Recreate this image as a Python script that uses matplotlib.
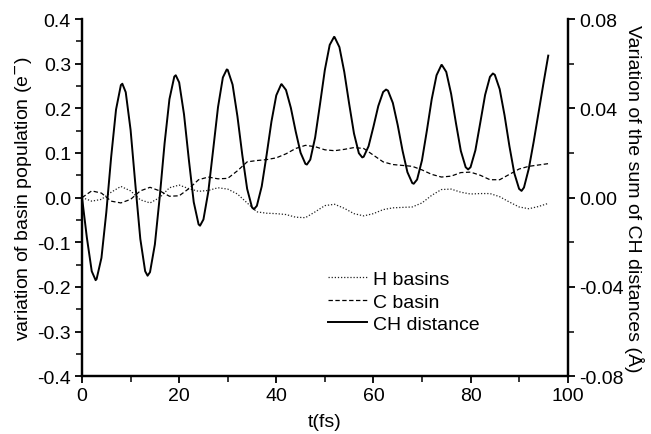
import numpy as np
import matplotlib.pyplot as plt
from matplotlib.ticker import MultipleLocator

plt.rcParams['font.family'] = ['Liberation Sans', 'DejaVu Sans']

# CH distance (right axis, Angstrom): every 1 fs plus the turning points
t_ch = [
    0, 1, 2, 2.8, 3, 4, 5, 6, 7, 8, 8.3, 9, 10, 11, 12, 13, 13.5, 14, 15, 16,
    17, 18, 19, 19.3, 20, 21, 22, 23, 24, 24.3, 25, 26, 27, 28, 29, 29.8, 30, 31,
    32, 33, 34, 35, 35.4, 36, 37, 38, 39, 40, 41, 41.1, 42, 43, 44, 45, 46, 46.3,
    47, 48, 49, 50, 51, 51.9, 52, 53, 54, 55, 56, 57, 57.7, 58, 59, 60, 61, 62,
    62.6, 63, 64, 65, 66, 67, 68, 68.3, 69, 70, 71, 72, 73, 74, 74.1, 75, 76, 77,
    78, 79, 79.5, 80, 81, 82, 83, 84, 84.6, 85, 86, 87, 88, 89, 90, 90.5, 91, 92,
    93, 94, 95, 96,
]
ch_distance = [
    0.0, -0.018, -0.033, -0.037, -0.0365, -0.027, -0.0066, 0.0182, 0.0394, 0.0504,
    0.051, 0.0472, 0.0303, 0.0054, -0.0185, -0.033, -0.035, -0.0334, -0.021, 0.0003,
    0.0243, 0.0441, 0.0542, 0.0548, 0.0516, 0.0373, 0.0169, -0.002, -0.012, -0.0126,
    -0.0098, 0.0026, 0.0214, 0.0405, 0.0538, 0.0574, 0.0572, 0.0506, 0.0364, 0.0191,
    0.0039, -0.0044, -0.0052, -0.0037, 0.005, 0.019, 0.034, 0.0458, 0.0507, 0.0508,
    0.0482, 0.0402, 0.0296, 0.0201, 0.0151, 0.0148, 0.017, 0.0269, 0.0418, 0.0572,
    0.0684, 0.072, 0.0719, 0.0674, 0.0563, 0.0421, 0.0287, 0.0199, 0.018, 0.0183,
    0.023, 0.0317, 0.041, 0.0473, 0.0484, 0.0479, 0.0424, 0.0325, 0.021, 0.0114,
    0.0065, 0.0062, 0.0081, 0.0167, 0.0299, 0.044, 0.0548, 0.0594, 0.0594, 0.0563,
    0.0465, 0.0333, 0.0209, 0.0136, 0.0126, 0.0136, 0.0212, 0.0335, 0.046, 0.0541,
    0.0556, 0.055, 0.0486, 0.0369, 0.0231, 0.011, 0.0039, 0.003, 0.0045, 0.013,
    0.025, 0.038, 0.051, 0.0636,
]

# basin populations (left axis, e-), every 2 fs
t_basin = list(range(0, 97, 2))
h_basins = [
    0.0, -0.008, -0.004, 0.012, 0.025, 0.015, -0.005, -0.012, 0.0, 0.022,
    0.028, 0.020, 0.014, 0.016, 0.022, 0.019, 0.008, -0.012, -0.032, -0.035,
    -0.036, -0.038, -0.044, -0.045, -0.032, -0.018, -0.015, -0.024, -0.036, -0.041,
    -0.036, -0.027, -0.023, -0.022, -0.021, -0.012, 0.005, 0.018, 0.019, 0.012,
    0.008, 0.009, 0.009, 0.002, -0.010, -0.021, -0.025, -0.020, -0.013,
]
c_basin = [
    0.0, 0.015, 0.010, -0.008, -0.012, -0.004, 0.015, 0.023, 0.015, 0.003,
    0.004, 0.020, 0.040, 0.046, 0.042, 0.043, 0.060, 0.080, 0.083, 0.085,
    0.089, 0.098, 0.110, 0.117, 0.114, 0.107, 0.105, 0.108, 0.112, 0.110,
    0.095, 0.080, 0.074, 0.072, 0.070, 0.062, 0.052, 0.046, 0.048, 0.056,
    0.057, 0.050, 0.040, 0.040, 0.052, 0.064, 0.070, 0.073, 0.076,
]

fig = plt.figure(figsize=(6.51, 4.35), dpi=100)
ax = fig.add_axes([0.126, 0.133, 0.746, 0.821])
ax2 = ax.twinx()

l1, = ax.plot(t_basin, h_basins, color='#222222', lw=0.9, ls=(0, (1, 1.5)), label='H basins')
l2, = ax.plot(t_basin, c_basin, color='black', lw=0.9, ls=(0, (3.5, 2)), label='C basin')
l3, = ax2.plot(t_ch, ch_distance, color='black', lw=1.4, label='CH distance')

ax.set_xlim(0, 100)
ax.set_ylim(-0.4, 0.4)
ax2.set_ylim(-0.08, 0.08)

ax.xaxis.set_major_locator(MultipleLocator(20))
ax.xaxis.set_minor_locator(MultipleLocator(10))
ax.yaxis.set_major_locator(MultipleLocator(0.1))
ax.yaxis.set_minor_locator(MultipleLocator(0.05))
ax2.yaxis.set_major_locator(MultipleLocator(0.04))
ax2.yaxis.set_minor_locator(MultipleLocator(0.02))
ax.yaxis.set_major_formatter(plt.FormatStrFormatter('%.1f'))
ax2.yaxis.set_major_formatter(plt.FormatStrFormatter('%.2f'))

for a in (ax, ax2):
    a.spines['top'].set_visible(False)
    for s in a.spines.values():
        s.set_linewidth(1.6)
    a.tick_params(which='major', direction='out', length=5, width=1.3, labelsize=14,
                  pad=3)
    a.tick_params(which='minor', direction='out', length=4, width=1.1)

ax.set_xlabel('t(fs)', fontsize=14, labelpad=6)
ax.set_ylabel('variation of basin population (e$^{-}$)', fontsize=14, labelpad=2)
ax2.set_ylabel('Variation of the sum of CH distances (Å)', fontsize=14,
               rotation=270, labelpad=15)

ax.legend(handles=[l1, l2, l3], loc='upper left', bbox_to_anchor=(0.47, 0.345),
          frameon=False, fontsize=14, handlelength=2.0, handletextpad=0.3,
          labelspacing=0.25)

fig.savefig('out.png', dpi=100)
